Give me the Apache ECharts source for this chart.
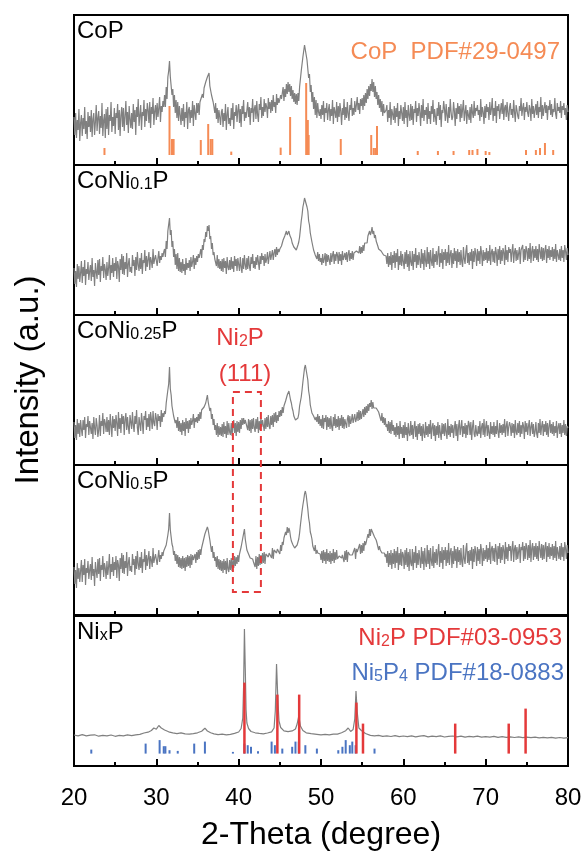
<!DOCTYPE html>
<html>
<head>
<meta charset="utf-8">
<script src="https://cdn.jsdelivr.net/npm/echarts@6/dist/echarts.min.js"></script>
<style>
html,body{margin:0;padding:0;background:#fff;}
#chart{width:587px;height:855px;}
</style>
</head>
<body>
<div id="chart"></div>
<script>
// Powder XRD patterns (2θ from 20° to 80°, 0.1° step), intensity in arbitrary units
const THETA_START = 20;
const THETA_STEP = 0.1;

const patternCoP = [
48,30,52,27,45,35,56,24,42,50, 29,47,36,58,31,44,26,53,38,49, 33,55,28,46,52,30,43,60,34,47,
54,31,49,37,62,29,45,51,27,56, 36,58,30,50,44,63,33,48,39,57, 31,52,47,61,35,55,29,50,58,38,
57,34,49,64,40,53,32,59,46,37, 52,36,61,43,55,30,58,48,66,39, 41,60,35,53,49,65,38,56,44,62,
55,42,63,37,58,51,67,40,54,60, 45,62,48,57,68,43,59,53,64,58, 70,58,78,66,88,94,104,88,86,70,
76,58,70,52,65,47,63,44,59,50, 40,57,44,61,38,53,47,63,36,55, 58,42,55,47,64,39,60,52,45,62,
52,62,50,63,64,61,71,67,77,75, 83,83,88,90,92,79,77,70,68,63, 58,52,62,46,57,42,55,48,40,53,
56,38,52,44,61,35,50,58,41,47, 39,57,45,62,36,53,49,60,43,55, 61,42,56,38,59,51,65,44,53,47,
45,63,48,58,40,57,52,66,43,56, 60,46,64,50,43,61,55,68,47,58, 49,66,53,62,58,47,67,56,63,52,
65,54,70,58,63,52,71,60,67,62, 61,70,66,67,78,64,76,68,81,71, 83,73,81,69,79,66,75,63,72,61,
71,60,72,64,78,78,94,92,108,108, 120,119,121,105,106,87,91,73,80,63, 73,56,68,50,65,47,62,53,49,56,
46,60,50,64,43,57,52,62,45,55, 61,44,56,49,65,41,58,53,47,63, 43,59,48,62,54,40,57,50,66,45,
58,47,63,51,44,60,55,67,49,57, 50,64,53,60,68,55,62,51,66,59, 67,55,70,59,72,62,76,66,79,69,
81,74,86,73,83,68,79,66,73,60, 70,57,66,53,64,49,61,52,50,55, 60,43,55,47,63,40,56,51,45,59,
42,57,48,62,39,54,46,60,52,44, 58,41,63,47,55,38,60,50,44,61, 45,59,40,56,52,64,43,57,49,62,
53,39,60,47,66,44,55,50,58,41, 62,46,54,41,59,51,65,43,56,48, 40,57,49,63,45,60,38,55,52,64,
56,44,61,50,42,58,47,66,53,45, 48,63,54,39,57,46,62,51,59,43, 61,47,56,65,44,53,60,41,55,50,
45,58,42,61,52,47,64,49,57,54, 60,50,55,44,66,48,58,53,41,59, 47,61,53,58,45,63,50,56,67,44,
57,49,64,42,59,54,61,46,55,62, 51,66,45,57,60,48,63,52,44,58, 62,50,56,47,65,53,43,60,55,49,
46,59,54,67,49,57,62,45,58,53, 63,52,48,60,56,44,66,51,59,47, 55,61,50,64,47,58,53,68,46,60,
49,57,63,52,60,45,59,55,65,50, 61,48,56,53,67,51,46,62,54,58, 52,64,47,59,55,62,50,57,45,60,
53
];

const patternCoNi01 = [
47,31,44,28,51,36,49,33,42,54, 32,48,39,55,30,46,41,53,35,44, 50,34,57,38,45,29,52,43,36,55,
40,56,33,49,44,58,37,51,46,35, 53,39,47,60,35,50,42,57,38,52, 44,58,36,54,49,33,56,45,61,41,
59,40,53,46,62,38,51,57,43,48, 42,60,49,55,39,58,45,63,50,44, 57,46,62,41,55,52,65,44,59,48,
50,63,45,58,54,47,66,51,56,60, 61,49,57,64,52,59,55,62,58,63, 66,58,74,66,84,82,97,80,85,68,
74,58,66,50,61,46,62,44,57,43, 53,42,56,44,51,40,57,45,52,47, 55,44,58,48,53,60,46,57,50,59,
53,61,57,56,66,57,70,65,76,73, 83,78,89,84,90,76,79,66,72,60, 63,56,58,49,60,47,56,46,54,44,
56,43,57,47,54,41,58,48,45,55, 45,58,46,54,43,59,49,56,44,57, 55,44,58,48,42,57,46,60,50,45,
57,46,59,49,44,58,51,61,47,54, 46,58,50,60,53,45,59,51,62,55, 59,49,61,52,56,63,51,58,64,55,
56,65,55,62,66,58,68,60,66,63, 66,68,69,71,75,75,79,79,84,80, 82,84,80,78,76,72,70,68,66,66,
65,67,70,73,78,86,94,100,108,112, 117,118,115,108,104,94,90,82,80,73, 72,65,66,60,62,56,63,54,61,53,
57,50,61,52,56,62,49,61,53,60, 59,50,62,53,60,64,51,61,54,63, 60,51,63,54,61,50,64,55,53,62,
55,63,53,61,65,54,62,56,64,55, 62,60,60,64,63,63,62,69,61,68, 62,70,64,72,70,71,72,79,77,84,
80,83,88,81,84,77,80,74,72,69, 66,67,65,64,62,62,60,60,58,59, 51,62,48,59,50,63,45,60,52,64,
47,62,53,66,45,59,50,64,49,61, 59,46,63,51,65,48,61,44,64,53, 49,64,45,61,53,67,47,60,50,63,
61,47,66,51,62,45,65,54,48,68, 51,63,46,65,54,49,67,47,61,53, 64,50,61,69,48,62,52,66,46,63,
55,66,49,63,52,70,50,61,65,47, 62,51,67,54,64,47,66,53,63,50, 65,53,48,68,56,51,64,70,52,62,
50,63,54,66,46,64,53,67,61,49, 66,54,64,51,69,62,49,65,54,63, 55,67,52,64,54,70,50,63,66,53,
64,52,68,62,49,66,55,69,51,65, 54,67,63,50,70,55,65,53,68,62, 66,53,64,71,52,63,67,54,65,55,
56,68,51,65,63,70,53,66,55,69, 65,54,67,56,72,52,64,69,54,66, 57,69,55,66,53,71,64,56,68,54,
67,55,65,70,52,66,57,69,55,65, 58,68,54,66,56,71,53,65,67,55, 66,54,69,57,65,53,70,64,55,67,
60
];

const patternCoNi025 = [
43,27,40,25,46,31,42,28,45,36, 29,45,35,48,27,41,38,49,30,44, 46,31,42,26,48,37,30,47,40,28,
35,50,29,44,39,52,31,46,42,33, 48,33,45,30,51,40,28,49,37,46, 34,50,42,29,53,36,47,32,51,41,
49,30,46,52,35,48,38,31,50,43, 36,53,40,33,49,41,55,37,30,48, 50,34,52,43,31,49,45,54,35,47,
38,51,34,53,46,36,54,42,39,52, 47,35,51,44,49,38,55,43,52,48, 54,51,62,60,75,81,98,76,70,59,
58,49,50,42,45,37,48,34,44,33, 42,30,45,34,43,29,47,36,44,32, 45,36,47,40,44,51,37,47,43,48,
42,51,44,53,46,55,54,57,58,60, 62,61,70,63,64,54,57,46,51,40, 46,35,40,30,42,28,39,30,38,29,
41,28,43,31,39,27,44,30,42,33, 30,42,29,40,45,32,42,29,44,33, 43,32,45,36,47,40,47,41,45,43,
44,35,46,34,45,32,46,36,47,37, 33,46,36,48,32,44,35,47,38,45, 43,34,47,36,48,38,50,39,36,49,
40,50,38,52,43,53,42,50,44,54, 48,55,49,58,52,59,58,64,65,70, 72,74,72,65,62,57,54,49,48,45,
45,47,47,51,59,61,68,75,83,90, 97,100,99,90,85,74,69,60,58,52, 53,49,50,45,48,43,51,41,49,39,
46,37,50,36,47,43,50,35,48,38, 47,36,49,38,34,48,39,51,37,46, 38,49,35,47,39,50,37,48,36,46,
48,37,46,50,38,49,41,45,51,42, 41,51,43,46,53,44,55,45,54,46, 47,56,48,58,50,59,52,61,54,62,
58,65,56,63,57,58,58,57,55,55, 53,50,51,44,52,42,48,40,47,38, 41,34,44,32,43,31,45,34,40,30,
38,28,42,30,39,26,44,31,38,27, 40,27,43,30,38,24,42,32,29,44, 30,40,26,38,44,28,39,25,41,31,
42,29,39,24,41,32,27,43,30,39, 28,41,31,45,26,38,42,29,40,24, 39,30,43,27,40,32,25,42,31,41,
29,42,33,26,46,30,39,28,41,32, 40,27,37,44,29,41,24,38,45,30, 32,45,28,39,31,42,27,40,30,44,
41,30,43,25,38,45,31,28,40,32, 29,39,31,44,27,38,42,30,46,28, 38,44,29,40,32,26,43,31,39,30,
43,28,39,31,45,33,27,42,32,40, 30,41,32,46,28,39,44,29,38,43, 39,29,42,32,41,27,45,33,30,42,
32,44,28,40,31,43,39,26,44,33, 42,30,39,45,29,38,43,31,41,28, 33,43,31,27,42,32,46,30,39,44,
29,41,33,44,30,42,28,39,45,32, 41,31,43,29,39,32,44,27,38,42, 31,42,28,40,32,45,30,41,29,39,
37
];

const patternCoNi05 = [
48,31,45,27,52,36,47,33,44,55, 33,50,40,56,30,47,42,54,36,45, 51,35,58,39,46,29,53,44,37,56,
41,57,34,50,45,59,38,52,47,36, 54,40,48,61,36,51,43,58,39,53, 45,59,37,55,50,34,57,46,62,42,
60,41,54,47,63,39,52,58,44,49, 43,61,50,56,40,59,46,64,51,45, 58,47,63,42,56,53,66,45,60,49,
51,64,46,59,55,48,67,52,57,61, 62,50,58,65,53,60,56,63,59,64, 65,63,70,69,80,86,102,85,78,71,
68,60,64,54,61,51,60,48,58,47, 57,46,59,47,57,44,58,48,60,49, 59,47,61,50,60,55,58,61,52,63,
55,65,56,66,60,67,68,74,73,81, 82,83,88,85,84,75,76,63,69,57, 63,54,58,48,59,46,56,45,55,44,
54,42,56,45,54,41,57,46,43,55, 45,57,44,55,47,59,49,58,51,60, 53,61,59,68,68,77,78,86,76,77,
65,65,61,61,57,58,55,56,53,55, 48,59,46,58,49,61,50,60,51,62, 52,63,51,61,59,59,58,62,61,61,
57,67,56,65,63,64,62,66,64,65, 61,70,64,73,70,77,75,83,80,88, 82,87,84,78,74,72,70,68,67,69,
66,70,72,76,82,90,97,104,110,115, 121,124,120,113,106,97,92,83,80,76, 69,71,64,70,61,65,62,63,60,61,
55,64,52,65,54,63,51,66,54,62, 53,64,51,62,54,66,52,63,55,65, 56,58,59,60,57,57,60,61,53,64,
55,65,53,63,61,60,58,62,60,61, 58,67,56,66,63,65,62,71,61,70, 62,72,64,74,70,73,72,81,77,86,
79,86,87,82,83,78,79,75,72,70, 65,69,65,66,62,64,60,62,58,61, 52,64,48,62,50,65,46,62,51,66,
47,64,52,68,45,62,50,66,49,63, 60,46,65,50,67,48,63,44,66,52, 49,66,45,63,52,69,47,62,50,65,
63,47,68,51,64,45,67,53,48,70, 51,65,46,67,54,49,69,47,63,52, 66,50,63,71,48,64,52,68,46,65,
55,68,49,65,52,72,50,63,67,47, 64,51,69,54,66,47,68,53,65,50, 67,53,48,70,56,51,66,72,52,64,
50,65,54,68,46,66,53,69,63,49, 68,54,66,51,71,64,49,67,54,65, 56,70,53,67,55,73,51,66,69,54,
67,53,71,64,50,69,56,72,52,68, 55,70,65,51,73,56,68,54,71,64, 69,54,67,74,53,66,70,55,68,56,
57,71,52,68,65,73,54,69,56,72, 68,55,70,57,75,53,67,72,55,69, 58,72,56,69,54,74,66,57,71,55,
70,56,68,73,53,69,58,72,56,68, 59,71,55,69,57,74,54,68,70,56, 69,55,72,58,68,54,73,67,56,70,
62
];

// NixP pattern: [2θ, intensity]
const patternNixP = [
[20,31],[20.5,30.2],[21,31.4],[21.5,30.1],[22,30.8],[22.5,31.2],[23,29.8],[23.5,30.6],
[24,30.1],[24.5,31],[25,29.7],[25.5,30.6],[26,30.2],[26.5,31.1],[27,30.3],[27.5,31.2],
[28,31.6],[28.5,33],[29,33.8],[29.4,35.5],[29.7,38],[30,36.8],[30.3,40.5],[30.6,38],
[31,36],[31.5,34.2],[32,33.1],[32.5,32.4],[33,33.2],[33.5,32.1],[34,31.8],[34.5,32.3],
[35,33.2],[35.5,34.8],[35.9,37.8],[36.2,35],[36.6,33.2],[37,32.1],[37.5,31.4],[38,31.8],
[38.5,31.1],[39,31.6],[39.5,32.6],[40,34],[40.3,37.5],[40.5,48],[40.6,80],[40.7,137],
[40.8,98],[40.9,56],[41,43],[41.2,37.5],[41.5,34.5],[42,33.2],[42.5,32.6],[43,32.2],
[43.5,33],[44,34.2],[44.3,38],[44.45,55],[44.6,102],[44.75,68],[44.9,45],[45.1,38.5],
[45.5,35.2],[46,34.3],[46.5,35.1],[46.9,37],[47.1,42],[47.3,50],[47.5,40],[47.8,35.5],
[48.2,33.2],[48.8,32.3],[49.5,31.6],[50,31.1],[50.5,31.7],[51,31.2],[51.5,31.8],[52,31.9],
[52.5,33.2],[53,35.3],[53.3,38],[53.6,34.6],[53.9,36.5],[54.1,47],[54.25,75],[54.4,54],
[54.6,38],[54.9,35.5],[55.1,36.2],[55.4,32.5],[56,30.6],[56.5,30.1],[57,30.7],[57.5,29.6],
[58,30.2],[58.5,29.5],[59,30.3],[59.5,29.4],[60,30],[60.5,29.3],[61,30.1],[61.5,29.2],
[62,29.8],[62.5,30.4],[63,29.1],[63.5,29.9],[64,29.3],[64.5,30.2],[65,29],[65.5,29.7],
[66,30],[66.5,29.2],[67,29.8],[67.5,28.9],[68,29.6],[68.5,29.1],[69,29.9],[69.5,28.8],
[70,29.4],[70.5,28.9],[71,29.6],[71.5,28.7],[72,29.3],[72.5,28.6],[73,29.2],[73.5,28.5],
[74,29.1],[74.5,28.4],[75,28.9],[75.5,28.3],[76,28.8],[76.5,28.2],[77,28.7],[77.5,28.1],
[78,28.6],[78.5,27.9],[79,28.5],[79.5,27.8],[80,28.3]
];

// Standard reference lines: [2θ, relative intensity]
const refCoP = [
[23.7,7],[31.6,49],[31.9,16],[32.1,16],[35.4,15],[36.3,31],[36.6,16],[36.8,16],
[39.1,3.4],[45.1,7.4],[46.25,38],[48.2,72],[48.4,35],[48.5,20],[52.4,16],[56.1,20],
[56.4,7],[56.6,7],[56.8,29],[61.75,4],[64.2,4],[66.1,4],[68.0,5],[68.4,5],[69.0,6],
[70.0,4],[70.45,3],[74.9,5],[76.1,5],[76.6,7],[77.2,12],[78.2,5]
];
const refNi2P = [
[40.7,71],[44.7,59],[47.35,59],[54.3,51],[55.1,30],[66.3,30],[72.8,30],[74.85,45]
];
const refNi5P4 = [
[22.1,4],[28.7,10],[30.4,13.5],[30.9,7.4],[31.1,7.4],[31.6,3.4],[32.6,2.7],[34.6,10],
[35.9,12],[39.3,1.7],[40.7,10],[41.1,8.4],[41.5,6.8],[42.35,2.4],[44.0,12],[44.4,8.4],
[45.3,5],[46.5,6.8],[46.9,12],[47.3,12],[48.1,8.4],[49.5,5],[52.1,3.4],[52.6,6.8],
[53.0,13.5],[53.5,8.4],[53.8,12],[54.2,8.4],[56.5,5]
];

const thetaTicks = [20, 30, 40, 50, 60, 70, 80];

// sample names: odd entries are subscripts
const sampleNames = [
  ['CoP'],
  ['CoNi', '0.1', 'P'],
  ['CoNi', '0.25', 'P'],
  ['CoNi', '0.5', 'P'],
  ['Ni', 'x', 'P']
];

// ---------- layout and styling ----------
const FONT = '"Liberation Sans", Arial, sans-serif';
const GRAY = '#808080';
const ORANGE = '#F58B55';
const RED = '#E4393A';
const BLUE = '#4A74C2';
const LEFT = 74, RIGHT = 568;
const PANEL_TOPS = [15, 165, 315, 465, 616];
const PANEL_H = 150;

const patterns = [patternCoP, patternCoNi01, patternCoNi025, patternCoNi05]
  .map(vals => vals.map((v, k) => [THETA_START + k * THETA_STEP, v]));
patterns.push(patternNixP);

const chart = echarts.init(document.getElementById('chart'));

const grid = PANEL_TOPS.map(t => ({
  left: LEFT, top: t, width: RIGHT - LEFT, height: PANEL_H,
  show: true, borderColor: '#000', borderWidth: 2, backgroundColor: 'transparent'
}));

const xAxis = PANEL_TOPS.map((t, i) => ({
  gridIndex: i, type: 'value',
  min: thetaTicks[0], max: thetaTicks[thetaTicks.length - 1],
  interval: thetaTicks[1] - thetaTicks[0],
  axisLine: { show: false },
  splitLine: { show: false },
  axisTick: { show: true, inside: true, length: 7, lineStyle: { color: '#000', width: 2 } },
  minorTick: { show: true, splitNumber: 2, length: 4, lineStyle: { color: '#000', width: 2 } },
  axisLabel: {
    show: i === PANEL_TOPS.length - 1, color: '#000', fontSize: 24, fontFamily: FONT, margin: 20,
    showMinLabel: true, showMaxLabel: true
  }
}));

const yAxis = PANEL_TOPS.map((t, i) => ({ gridIndex: i, type: 'value', min: 0, max: PANEL_H, show: false }));

function stickSeries(idx, data, base, color, width) {
  return {
    type: 'custom', xAxisIndex: idx, yAxisIndex: idx, data: data,
    encode: { x: 0, y: 1 },
    renderItem: function (params, api) {
      const x = api.value(0), h = api.value(1);
      const p0 = api.coord([x, base]);
      const p1 = api.coord([x, base + h]);
      return {
        type: 'line',
        shape: { x1: p0[0], y1: p0[1], x2: p1[0], y2: p1[1] },
        style: { stroke: color, lineWidth: width }
      };
    },
    silent: true, animation: false, z: 5
  };
}

const series = patterns.map((d, i) => ({
  type: 'line', xAxisIndex: i, yAxisIndex: i, data: d,
  showSymbol: false, symbol: 'none', sampling: null,
  lineStyle: { color: GRAY, width: 1.2 },
  animation: false, z: 2
}));
series.push(stickSeries(0, refCoP, 10, ORANGE, 2));
series.push(stickSeries(4, refNi5P4, 12.4, BLUE, 2));
series.push(stickSeries(4, refNi2P, 12.4, RED, 2.5));

chart.setOption({
  backgroundColor: '#fff',
  animation: false,
  grid: grid, xAxis: xAxis, yAxis: yAxis, series: series
});

// ---------- text and annotations ----------
const richStyles = (color) => ({
  m: { fontSize: 24, fontFamily: FONT, fill: color, lineHeight: 24, verticalAlign: 'top' },
  s: { fontSize: 16, fontFamily: FONT, fill: color, lineHeight: 16, padding: [17, 0, 0, 0], verticalAlign: 'bottom' }
});
function richText(parts) {
  return parts.map((p, k) => (k % 2 ? '{s|' + p + '}' : '{m|' + p + '}')).join('');
}

const graphics = [];
sampleNames.forEach((parts, i) => {
  graphics.push({
    type: 'text', x: 77, y: PANEL_TOPS[i] + 4, z: 10,
    style: { text: richText(parts), rich: richStyles('#000'), align: 'left', verticalAlign: 'top' }
  });
});

graphics.push({
  type: 'text', x: 560, y: 40, z: 10,
  style: { text: richText(['CoP  PDF#29-0497']), rich: richStyles(ORANGE), align: 'right', verticalAlign: 'top' }
});
graphics.push({
  type: 'text', x: 562, y: 626, z: 10,
  style: { text: richText(['Ni', '2', 'P PDF#03-0953']), rich: richStyles(RED), align: 'right', verticalAlign: 'top' }
});
graphics.push({
  type: 'text', x: 564, y: 661, z: 10,
  style: { text: richText(['Ni', '5', 'P', '4', ' PDF#18-0883']), rich: richStyles(BLUE), align: 'right', verticalAlign: 'top' }
});
graphics.push({
  type: 'text', x: 240, y: 326, z: 10,
  style: { text: richText(['Ni', '2', 'P']), rich: richStyles(RED), align: 'center', verticalAlign: 'top' }
});
graphics.push({
  type: 'text', x: 245, y: 362, z: 10,
  style: { text: '(111)', fill: RED, fontSize: 24, fontFamily: FONT, align: 'center', verticalAlign: 'top' }
});

// dashed box around the Ni2P (111) region, spanning panels 3 and 4
const boxTL = chart.convertToPixel({ gridIndex: 2 }, [39.3, 73]);
const boxBR = chart.convertToPixel({ gridIndex: 3 }, [42.7, 23]);
graphics.push({
  type: 'rect', z: 10,
  shape: { x: boxTL[0], y: boxTL[1], width: boxBR[0] - boxTL[0], height: boxBR[1] - boxTL[1] },
  style: { fill: 'none', stroke: RED, lineWidth: 2, lineDash: [7, 5] }
});

// axis titles
graphics.push({
  type: 'text', x: 321, y: 835, z: 10,
  style: { text: '2-Theta (degree)', fill: '#000', fontSize: 32, fontFamily: FONT, align: 'center', verticalAlign: 'middle' }
});
graphics.push({
  type: 'text', x: 29, y: 380, rotation: Math.PI / 2, z: 10,
  style: { text: 'Intensity (a.u.)', fill: '#000', fontSize: 33, fontFamily: FONT, align: 'center', verticalAlign: 'middle' }
});

chart.setOption({ graphic: graphics });
</script>
</body>
</html>
